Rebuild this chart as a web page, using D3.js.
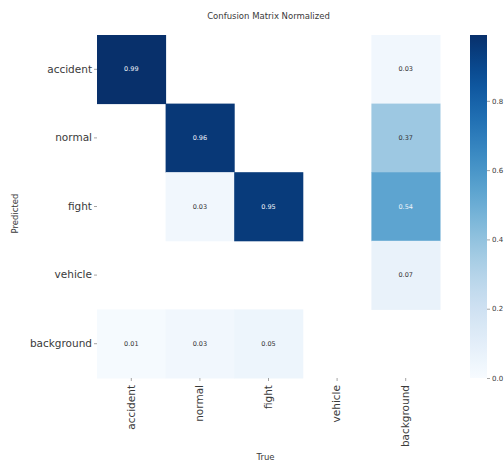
<!DOCTYPE html>
<html>
<head>
<meta charset="utf-8">
<script src="https://cdn.jsdelivr.net/npm/d3@7"></script>
<style>
  html, body { margin: 0; padding: 0; background: #fff; }
  svg { display: block; font-family: "DejaVu Sans", sans-serif; }
</style>
</head>
<body>
<svg id="chart" width="504" height="463"></svg>
<script>
// Data (rows = Predicted, columns = True); null = blank (value < 0.005)
const classes = ["accident", "normal", "fight", "vehicle", "background"];
const rowAccident   = [0.99, null, null, null, 0.03];
const rowNormal     = [null, 0.96, null, null, 0.37];
const rowFight      = [null, 0.03, 0.95, null, 0.54];
const rowVehicle    = [null, null, null, null, 0.07];
const rowBackground = [0.01, 0.03, 0.05, null, null];
const matrix = [rowAccident, rowNormal, rowFight, rowVehicle, rowBackground];
const colorbarTicks = [0.0, 0.2, 0.4, 0.6, 0.8];
const titleText = "Confusion Matrix Normalized";
const xLabel = "True";
const yLabel = "Predicted";

const FONT = "DejaVu Sans";
const svg = d3.select("#chart");
const mLeft = 97, mRight = 440, mTop = 35, mBottom = 378;

const x = d3.scaleBand().domain(classes).range([mLeft, mRight]);
const y = d3.scaleBand().domain(classes).range([mTop, mBottom]);
const vmax = d3.max(matrix.flat().filter(v => v != null));
const color = d3.scaleSequential(d3.interpolateBlues).domain([0, vmax]);

const cells = [];
matrix.forEach((row, i) => row.forEach((v, j) => {
  if (v != null) cells.push({ r: classes[i], c: classes[j], v });
}));

svg.append("g").selectAll("rect").data(cells).join("rect")
  .attr("x", d => x(d.c)).attr("y", d => y(d.r))
  .attr("width", x.bandwidth() + 0.5).attr("height", y.bandwidth() + 0.5)
  .attr("fill", d => color(d.v));

function lum(c) {
  const rgb = d3.rgb(c);
  const f = v => { v /= 255; return v <= 0.03928 ? v / 12.92 : Math.pow((v + 0.055) / 1.055, 2.4); };
  return 0.2126 * f(rgb.r) + 0.7152 * f(rgb.g) + 0.0722 * f(rgb.b);
}

svg.append("g").attr("font-family", FONT).selectAll("text").data(cells).join("text")
  .attr("x", d => x(d.c) + x.bandwidth() / 2)
  .attr("y", d => y(d.r) + y.bandwidth() / 2)
  .attr("text-anchor", "middle").attr("dominant-baseline", "central")
  .attr("font-size", 6.5)
  .attr("fill", d => lum(color(d.v)) > 0.408 ? "#333" : "#f0f4fa")
  .text(d => d.v.toFixed(2));

// Axes
const yAxis = d3.axisLeft(y).tickSize(3).tickPadding(2);
const gy = svg.append("g").attr("transform", `translate(${mLeft},0)`).call(yAxis)
  .attr("font-family", FONT);
gy.select(".domain").remove();
gy.selectAll("text").attr("font-size", 10.5).attr("fill", "#3a3a3a");
gy.selectAll("line").attr("stroke", "#666").attr("stroke-width", 0.6);

const xAxis = d3.axisBottom(x).tickSize(3).tickPadding(2);
const gx = svg.append("g").attr("transform", `translate(0,${mBottom})`).call(xAxis)
  .attr("font-family", FONT);
gx.select(".domain").remove();
gx.selectAll("line").attr("stroke", "#666").attr("stroke-width", 0.6);
gx.selectAll("text")
  .attr("font-size", 10.5).attr("fill", "#3a3a3a")
  .attr("transform", "rotate(-90)")
  .attr("text-anchor", "end")
  .attr("dy", "0.32em").attr("x", -7).attr("y", 0);

// Title and axis labels
svg.append("text").attr("x", (mLeft + mRight) / 2).attr("y", 19)
  .attr("text-anchor", "middle").attr("font-size", 8.5).attr("fill", "#3a3a3a").text(titleText);
svg.append("text").attr("x", (mLeft + mRight) / 2 - 3).attr("y", 460)
  .attr("text-anchor", "middle").attr("font-size", 8.5).attr("fill", "#3a3a3a").text(xLabel);
svg.append("text").attr("transform", `translate(18,${(mTop + mBottom) / 2 + 7}) rotate(-90)`)
  .attr("text-anchor", "middle").attr("font-size", 8.5).attr("fill", "#3a3a3a").text(yLabel);

// Colorbar
const cbX = 470, cbW = 17;
const cbScale = d3.scaleLinear().domain([0, vmax]).range([mBottom, mTop]);
const defs = svg.append("defs");
const grad = defs.append("linearGradient").attr("id", "cbgrad")
  .attr("x1", 0).attr("y1", 1).attr("x2", 0).attr("y2", 0);
d3.range(0, 1.0001, 0.05).forEach(t => {
  grad.append("stop").attr("offset", t).attr("stop-color", d3.interpolateBlues(t));
});
svg.append("rect").attr("x", cbX).attr("y", mTop).attr("width", cbW).attr("height", mBottom - mTop)
  .attr("fill", "url(#cbgrad)");
const cbAxis = d3.axisRight(cbScale).tickValues(colorbarTicks).tickFormat(d3.format(".1f")).tickSize(3).tickPadding(2);
const gc = svg.append("g").attr("transform", `translate(${cbX + cbW},0)`).call(cbAxis)
  .attr("font-family", FONT);
gc.select(".domain").remove();
gc.selectAll("text").attr("font-size", 7).attr("fill", "#3a3a3a");
gc.selectAll("line").attr("stroke", "#666").attr("stroke-width", 0.6);
</script>
</body>
</html>
